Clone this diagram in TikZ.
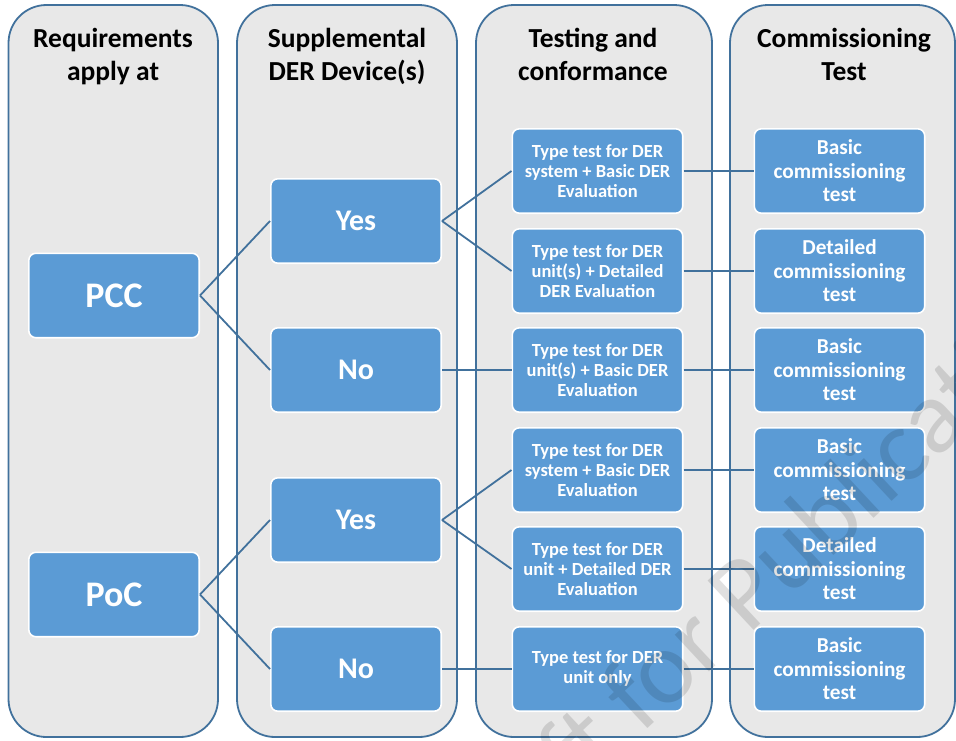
\documentclass[tikz,border=0pt]{standalone}
\usepackage{fontspec}
\setmainfont{Carlito}
\definecolor{colfill}{HTML}{E8E8E8}
\definecolor{colline}{HTML}{41719C}
\definecolor{boxfill}{HTML}{5B9BD5}
\begin{document}
\begin{tikzpicture}[x=1pt,y=-1pt,
  column/.style={draw=colline, line width=1.8pt, fill=colfill, rounded corners=38pt},
  head/.style={anchor=base, align=center, inner sep=0pt, font=\fontsize{27.5}{33}\selectfont\bfseries},
  box/.style={draw=white, line width=1.6pt, fill=boxfill, rounded corners=7pt,
    minimum width=170.4pt, minimum height=84.4pt, inner sep=0pt, text=white, align=center},
  bigbox/.style={box, font=\fontsize{36}{40}\selectfont\bfseries},
  ynbox/.style={box, font=\fontsize{30}{34}\selectfont\bfseries},
  testbox/.style={box, font=\fontsize{18.5}{20}\selectfont\bfseries},
  combox/.style={box, font=\fontsize{21.3}{23.5}\selectfont\bfseries},
  link/.style={draw=colline, line width=1.8pt},
  watermark/.style={text=black, opacity=0.12, font=\fontsize{105}{110}\selectfont, inner sep=0pt}
]
\useasboundingbox (0,0) rectangle (956,740);
\begin{scope}
\clip (0,0) rectangle (956,740);
% columns
\draw[column] (8.5,5) rectangle (218,737);
\draw[column] (237,5) rectangle (457,737);
\draw[column] (476,5) rectangle (712,737);
\draw[column] (730,5) rectangle (955,737);
% headers
\node[head] (h1) at (113,80) {Requirements\\apply at};
\node[head] (h2) at (347,80) {Supplemental\\DER Device(s)};
\node[head] (h3) at (593,80) {Testing and\\conformance};
\node[head] (h4) at (844,80) {Commissioning\\Test};
% boxes column 1
\node[bigbox] (pcc) at (114,295.5) {PCC};
\node[bigbox] (poc) at (114,594.5) {PoC};
% column 2
\node[ynbox] (yes1) at (356,221) {Yes};
\node[ynbox] (no1) at (356,370) {No};
\node[ynbox] (yes2) at (356,520) {Yes};
\node[ynbox] (no2) at (356,669) {No};
% column 3
\node[testbox] (t1) at (597.5,171) {Type test for DER\\system + Basic DER\\Evaluation};
\node[testbox] (t2) at (597.5,271) {Type test for DER\\unit(s) + Detailed\\DER Evaluation};
\node[testbox] (t3) at (597.5,370) {Type test for DER\\unit(s) + Basic DER\\Evaluation};
\node[testbox] (t4) at (597.5,470) {Type test for DER\\system + Basic DER\\Evaluation};
\node[testbox] (t5) at (597.5,569) {Type test for DER\\unit + Detailed DER\\Evaluation};
\node[testbox] (t6) at (597.5,669) {Type test for DER\\unit only};
% column 4
\node[combox] (c1) at (839.5,171) {Basic\\commissioning\\test};
\node[combox] (c2) at (839.5,271) {Detailed\\commissioning\\test};
\node[combox] (c3) at (839.5,370) {Basic\\commissioning\\test};
\node[combox] (c4) at (839.5,470) {Basic\\commissioning\\test};
\node[combox] (c5) at (839.5,569) {Detailed\\commissioning\\test};
\node[combox] (c6) at (839.5,669) {Basic\\commissioning\\test};
% connectors
\draw[link] (pcc.east) -- (yes1.west);
\draw[link] (pcc.east) -- (no1.west);
\draw[link] (poc.east) -- (yes2.west);
\draw[link] (poc.east) -- (no2.west);
\draw[link] (yes1.east) -- (t1.west);
\draw[link] (yes1.east) -- (t2.west);
\draw[link] (no1.east) -- (t3.west);
\draw[link] (yes2.east) -- (t4.west);
\draw[link] (yes2.east) -- (t5.west);
\draw[link] (no2.east) -- (t6.west);
\draw[link] (t1.east) -- (c1.west);
\draw[link] (t2.east) -- (c2.west);
\draw[link] (t3.east) -- (c3.west);
\draw[link] (t4.east) -- (c4.west);
\draw[link] (t5.east) -- (c5.west);
\draw[link] (t6.east) -- (c6.west);
% watermark
\node[watermark, anchor=base, rotate=43] (wm) at (782,604) {Draft for Publication};
\end{scope}
\end{tikzpicture}
\end{document}
